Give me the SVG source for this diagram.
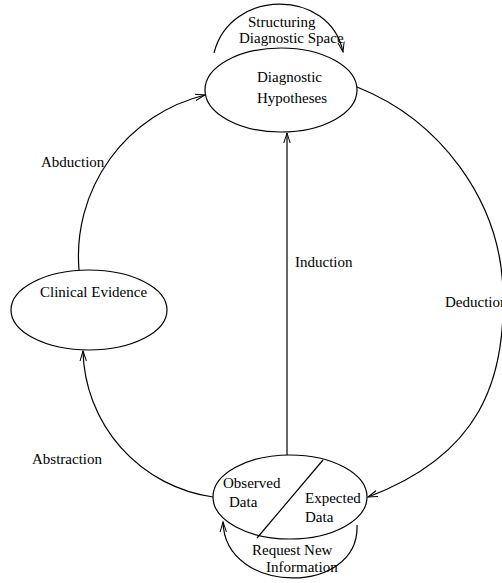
<svg xmlns="http://www.w3.org/2000/svg" width="502" height="583" viewBox="0 0 502 583">
<style>
.n{fill:#fff;stroke:#000;stroke-width:1.2}
.c{fill:none;stroke:#000;stroke-width:1.2}
text{font-family:"Liberation Serif","Times New Roman",serif;font-size:15px;fill:#000}
</style>
<defs>
<marker id="a" markerWidth="12" markerHeight="8" refX="10" refY="4" orient="auto" markerUnits="userSpaceOnUse">
<path d="M0,0.8 L10,4 L0,7.2" fill="none" stroke="#000" stroke-width="1"/>
</marker>
</defs>
<rect width="502" height="583" fill="#fff"/>
<g id="connectors">
<path class="c" d="M214,53 C230,-12 330,-12 343,52" marker-end="url(#a)"/>
<path class="c" d="M357,525 C360,596 225,596 223,522" marker-end="url(#a)"/>
<path class="c" d="M287,455 L287,133" marker-end="url(#a)"/>
<path class="c" d="M79,270 A166,166 0 0 1 205,95" marker-end="url(#a)"/>
<path class="c" d="M213,497 A151,151 0 0 1 83,351" marker-end="url(#a)"/>
<path class="c" d="M357,87 C440,120 500,200 503,290 C506,380 480,455 368,497" marker-end="url(#a)"/>
<text x="248" y="27">Structuring</text>
<text x="239" y="43">Diagnostic Space</text>
<text x="252" y="555">Request New</text>
<text x="266" y="572">Information</text>
<text x="295" y="267">Induction</text>
<text x="41" y="167">Abduction</text>
<text x="32" y="464">Abstraction</text>
<text x="445" y="307">Deduction</text>
</g>
<g id="diagnostic-hypotheses">
<ellipse class="n" cx="281" cy="90" rx="76" ry="42"/>
<text x="257" y="82">Diagnostic</text>
<text x="257" y="103">Hypotheses</text>
</g>
<g id="clinical-evidence">
<ellipse class="n" cx="89" cy="310" rx="78" ry="40"/>
<text x="40" y="297">Clinical Evidence</text>
</g>
<g id="data">
<ellipse class="n" cx="290" cy="497" rx="77" ry="42"/>
<line class="c" x1="323" y1="460" x2="257" y2="538"/>
<text x="223" y="488">Observed</text>
<text x="229" y="507">Data</text>
<text x="305" y="503">Expected</text>
<text x="305" y="522">Data</text>
</g>
</svg>
